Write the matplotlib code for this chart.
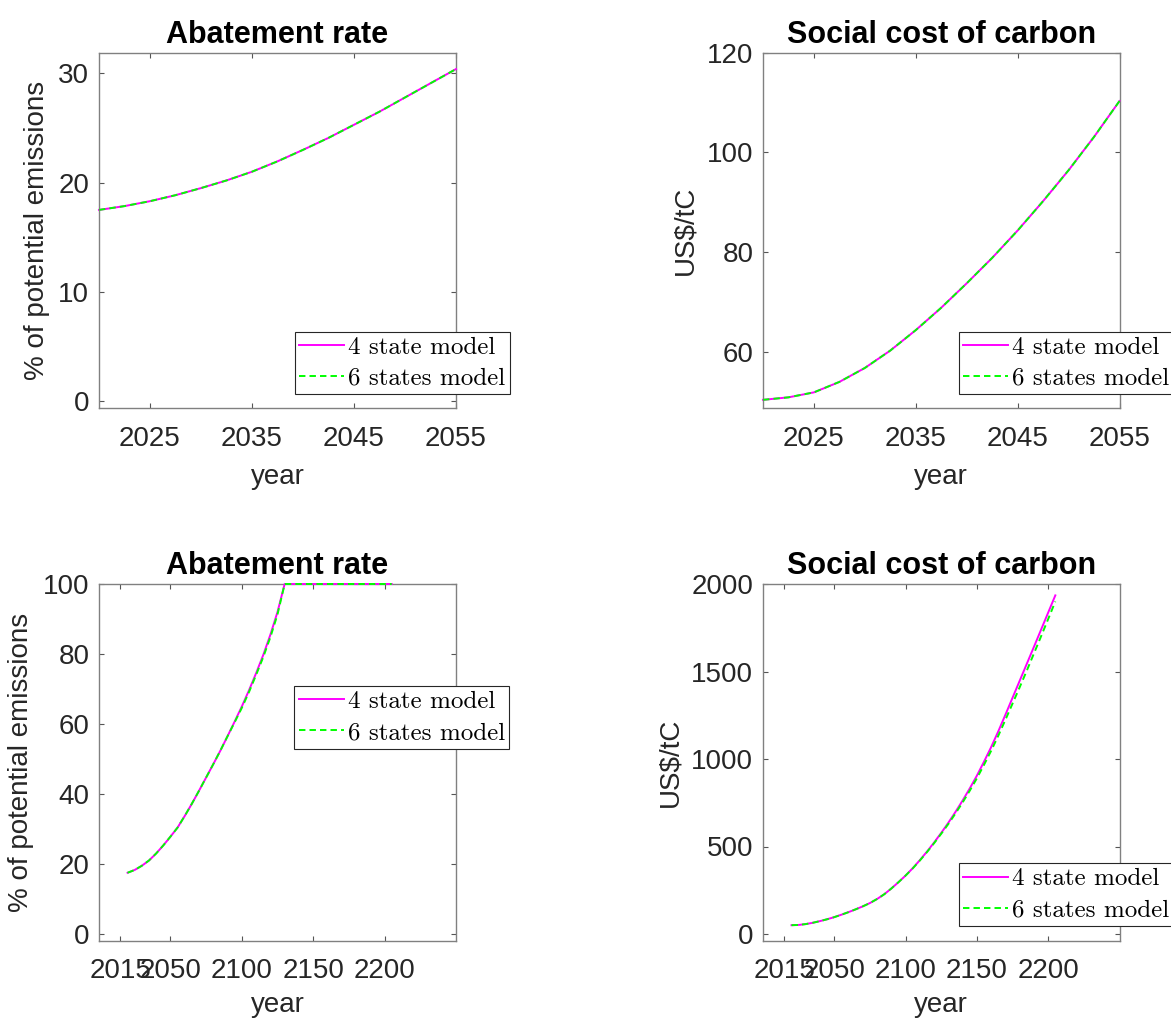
import numpy as np
import matplotlib
matplotlib.use('Agg')
from matplotlib import pyplot as plt

plt.rcParams['font.family'] = ['Liberation Sans', 'DejaVu Sans']

# first decades, read every 2.5 years
years_short = [2020, 2022.5, 2025, 2027.5, 2030, 2032.5, 2035, 2037.5, 2040,
               2042.5, 2045, 2047.5, 2050, 2052.5, 2055]
abate_short_4 = [17.5, 17.85, 18.3, 18.85, 19.5, 20.2, 21.0, 21.95, 23.0,
                 24.1, 25.3, 26.5, 27.8, 29.1, 30.4]
abate_short_6 = [17.5, 17.85, 18.3, 18.85, 19.5, 20.2, 21.0, 21.95, 23.0,
                 24.1, 25.3, 26.5, 27.8, 29.1, 30.4]
scc_short_4 = [50.3, 50.8, 51.8, 53.9, 56.7, 60.2, 64.3, 68.8, 73.7,
               78.8, 84.3, 90.2, 96.4, 103.1, 110.3]
scc_short_6 = [50.3, 50.8, 51.8, 53.9, 56.7, 60.2, 64.3, 68.8, 73.7,
               78.8, 84.3, 90.2, 96.4, 103.1, 110.3]

# full horizon, 5 year steps
years_long = list(range(2020, 2206, 5))
abate_long_4 = [17.5, 18.3, 19.5, 21.0, 23.0, 25.3, 27.8, 30.4, 33.7, 37.2,
                40.9, 44.7, 48.5, 52.4, 56.5, 60.7, 65.0, 69.6, 74.5, 79.7,
                85.5, 92.0, 100] + [100] * 15
abate_long_6 = [17.5, 18.3, 19.5, 21.0, 23.0, 25.3, 27.8, 30.4, 33.7, 37.2,
                40.9, 44.7, 48.5, 52.4, 56.5, 60.5, 64.6, 69.1, 74.0, 79.1,
                84.8, 91.3, 100] + [100] * 15
scc_long_4 = [50.3, 51.8, 56.7, 64.3, 73.7, 84.3, 96.4, 110.3, 125, 141,
              158, 177, 200, 227, 260, 296, 334, 376, 422, 471,
              523, 578, 636, 698, 763, 832, 905, 985, 1068, 1158,
              1253, 1350, 1447, 1544, 1641, 1739, 1837, 1935]
scc_long_6 = [50.3, 51.8, 56.7, 64.3, 73.7, 84.3, 96.4, 110.3, 125, 141,
              158, 177, 200, 227, 260, 296, 334, 375, 420, 468,
              519, 573, 629, 689, 752, 819, 890, 967, 1047, 1133,
              1224, 1317, 1410, 1505, 1603, 1701, 1800, 1900]

labels = ['4 state model', '6 states model']
ticks_short = [2025, 2035, 2045, 2055]
ticks_long = [2015, 2050, 2100, 2150, 2200]

W, H = 1171, 1019
fig = plt.figure(figsize=(W / 100, H / 100), dpi=100)

def px_axes(left, top, right, bottom):
    return fig.add_axes([left / W, 1 - bottom / H, (right - left) / W, (bottom - top) / H])

def style(ax, title, ylabel, xlim, xticks, ylim, yticks, xpad=9):
    ax.set_xlim(xlim)
    ax.set_ylim(ylim)
    ax.set_xticks(xticks)
    ax.set_yticks(yticks)
    ax.set_title(title, fontsize=22, fontweight='bold', pad=7)
    ax.set_xlabel('year', fontsize=20, color='#262626', labelpad=xpad)
    ax.set_ylabel(ylabel, fontsize=20, color='#262626', labelpad=6)
    ax.tick_params(direction='in', top=True, right=True, length=3.5, width=0.8,
                   labelsize=20, labelcolor='#262626', color='#555555')
    ax.tick_params(axis='x', pad=12.5)
    ax.tick_params(axis='y', pad=7)
    for s in ax.spines.values():
        s.set_color('#808080')
        s.set_linewidth(1.0)

def add_legend(ax, x, y):
    leg = ax.legend(labels, loc='upper left', bbox_to_anchor=(x / W, 1 - y / H),
                    bbox_transform=fig.transFigure, borderaxespad=0,
                    prop={'family': 'cmr10', 'size': 18}, frameon=True,
                    fancybox=False, framealpha=1, edgecolor='#262626',
                    handlelength=1.8, handletextpad=0.15, labelspacing=0.34,
                    borderpad=0.18)
    leg.get_frame().set_linewidth(0.8)

dash = (0, (3.3, 2.1))

def draw(ax, x, y4, y6):
    ax.plot(x, y4, color='#ff00ff', lw=1.4, clip_on=False, zorder=3)
    ax.plot(x, y6, color='#00ff00', lw=1.4, linestyle=dash, clip_on=False, zorder=3)

ax1 = px_axes(99, 52.7, 456, 408.3)
draw(ax1, years_short, abate_short_4, abate_short_6)
style(ax1, 'Abatement rate', '% of potential emissions', (2020, 2055), ticks_short,
      (-0.67, 31.9), [0, 10, 20, 30])
add_legend(ax1, 294.7, 331.7)

ax2 = px_axes(763, 52.7, 1119.5, 408.3)
draw(ax2, years_short, scc_short_4, scc_short_6)
style(ax2, 'Social cost of carbon', r'US\$/tC', (2020, 2055), ticks_short,
      (48.6, 120), [60, 80, 100, 120])
add_legend(ax2, 958.7, 331.7)

ax3 = px_axes(99, 584, 456, 941)
draw(ax3, years_long, abate_long_4, abate_long_6)
style(ax3, 'Abatement rate', '% of potential emissions', (2000, 2250), ticks_long,
      (-2, 100), [0, 20, 40, 60, 80, 100], xpad=5.5)
add_legend(ax3, 294.3, 686)

ax4 = px_axes(763, 584, 1119.5, 941)
draw(ax4, years_long, scc_long_4, scc_long_6)
style(ax4, 'Social cost of carbon', r'US\$/tC', (2000, 2250), ticks_long,
      (-40, 2000), [0, 500, 1000, 1500, 2000], xpad=5.5)
add_legend(ax4, 958.7, 863.3)

fig.savefig('out.png', dpi=100, facecolor='white')
